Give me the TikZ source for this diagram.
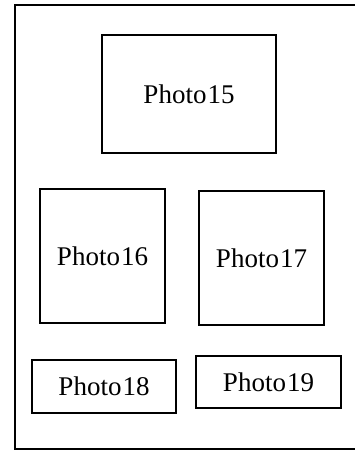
\documentclass[tikz,border=0pt]{standalone}
\usepackage{fontspec}
\setmainfont{Liberation Serif}
\begin{document}
\begin{tikzpicture}[x=1pt,y=-1pt,
  photo/.style={draw, line width=2.4pt, inner sep=0pt, font=\fontsize{27}{31}\selectfont, align=center}]
\useasboundingbox (0,0) rectangle (355,452);
\draw[line width=2.4pt] (355,5) -- (15,5) -- (15,449) -- (355,449);
\node[photo, minimum width=174, minimum height=118] (p15) at (189,94) {Photo\kern1pt15};
\node[photo, minimum width=125, minimum height=134] (p16) at (102.5,256) {Photo\kern1pt16};
\node[photo, minimum width=125, minimum height=134] (p17) at (261.5,258) {Photo\kern1pt17};
\node[photo, minimum width=144, minimum height=53] (p18) at (104,386.5) {Photo\kern1pt18};
\node[photo, minimum width=145, minimum height=52] (p19) at (268.5,382) {Photo\kern1pt19};
\end{tikzpicture}
\end{document}
